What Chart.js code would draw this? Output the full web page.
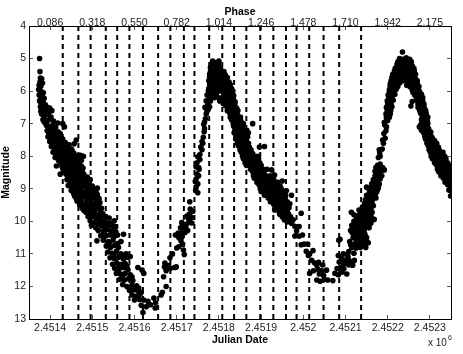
<!DOCTYPE html>
<html>
<head>
<meta charset="utf-8">
<script src="https://cdn.jsdelivr.net/npm/chart.js@4/dist/chart.umd.min.js"></script>
<style>
    html, body { margin: 0; padding: 0; background: #fff; }
    canvas { display: block; }
</style>
</head>
<body>
<canvas id="lightcurve" width="463" height="354"></canvas>
<script>
// Days are Julian Date minus 2450000
const dayTicks = [1400, 1500, 1600, 1700, 1800, 1900, 2000, 2100, 2200, 2300];
const dateLabels = ['2.4514', '2.4515', '2.4516', '2.4517', '2.4518', '2.4519', '2.452', '2.4521', '2.4522', '2.4523'];
const phaseLabels = ['0.086', '0.318', '0.550', '0.782', '1.014', '1.246', '1.478', '1.710', '1.942', '2.175'];
const magnitudeTicks = [4, 5, 6, 7, 8, 9, 10, 11, 12, 13];

// Dashed observation epochs
const epochDays = [1430, 1467, 1496, 1532, 1559, 1588, 1620, 1656, 1685, 1717, 1742, 1777,
    1808, 1836, 1865, 1898, 1929, 1959, 1984, 2014, 2048, 2085, 2137];

const fallOne = [
    [1375,5.0],[1376,5.4],[1377,5.6],[1380,5.62],[1376,5.72],[1374,5.82],[1378,5.85],[1382,5.75],[1373,5.95],[1376,6.0],[1380,6.02],[1384,6.05],
    [1374,6.12],[1378,6.2],[1382,6.18],[1386,6.22],[1375,6.3],[1379,6.38],[1384,6.36],[1389,6.42],[1377,6.48],[1382,6.55],[1387,6.58],[1393,6.5],[1399,6.52],[1404,6.6],
    [1380,6.7],[1385,6.78],[1390,6.72],[1396,6.7],[1402,6.8],[1386,6.95],[1391,6.9],[1397,6.88],[1408,6.92],[1418,6.98],[1430,7.0],[1434,7.1],
    [1391,7.05],[1398,7.1],[1406,7.05],[1413,7.12],[1393,7.22],[1402,7.25],[1410,7.2],[1419,7.25],[1395,7.4],[1404,7.38],[1413,7.42],[1422,7.38],[1428,7.45],
    [1399,7.55],[1408,7.58],[1417,7.52],[1426,7.6],[1436,7.58],[1462,7.5],[1457,7.62],[1403,7.7],[1412,7.74],[1421,7.7],[1431,7.76],[1441,7.72],[1450,7.78],
    [1407,7.88],[1416,7.9],[1426,7.86],[1436,7.92],[1446,7.86],[1456,7.9],[1467,8.0],[1412,8.04],[1422,8.06],[1433,8.02],[1443,8.08],[1453,8.03],[1462,8.08],[1479,8.0],
    [1415,8.3],[1425,8.2],[1435,8.22],[1446,8.2],[1457,8.24],[1468,8.2],[1430,8.38],[1440,8.36],[1451,8.4],[1461,8.36],[1472,8.42],[1478,8.36],
    [1424,8.55],[1438,8.55],[1449,8.58],[1459,8.52],[1470,8.58],[1480,8.55],[1440,8.72],[1452,8.75],[1463,8.7],[1474,8.74],[1484,8.7],[1495,8.72],
    [1443,8.9],[1454,8.9],[1466,8.88],[1477,8.92],[1488,8.88],[1500,8.92],[1450,9.05],[1461,9.08],[1473,9.04],[1484,9.1],[1495,9.04],[1508,9.08],
    [1458,9.22],[1469,9.2],[1481,9.24],[1492,9.2],[1503,9.25],[1512,9.18],[1464,9.38],[1475,9.42],[1487,9.36],[1498,9.42],[1510,9.38],[1518,9.42],
    [1476,9.6],[1488,9.56],[1499,9.62],[1510,9.56],[1522,9.6],[1485,9.72],[1495,9.78],[1505,9.74],[1516,9.8],[1525,9.76],[1540,9.9],
    [1495,9.98],[1498,10.12],[1509,9.92],[1518,9.96],[1528,10.0],[1552,9.98],[1511,10.1],[1521,10.14],[1532,10.1],[1542,10.12],[1555,10.16],
    [1514,10.28],[1526,10.3],[1536,10.26],[1546,10.3],[1556,10.32],[1520,10.44],[1531,10.46],[1541,10.42],[1551,10.48],[1560,10.42],[1574,10.4],
    [1511,10.6],[1526,10.58],[1538,10.62],[1549,10.58],[1568,10.62],[1533,10.76],[1543,10.8],[1553,10.74],[1562,10.8],
    [1537,10.94],[1547,10.98],[1557,10.92],[1568,11.0],[1580,11.0],[1590,11.08],[1542,11.12],[1552,11.14],[1563,11.1],[1574,11.16],[1584,11.1],
    [1548,11.32],[1558,11.28],[1568,11.32],[1578,11.3],[1553,11.44],[1563,11.48],[1574,11.42],[1584,11.48],[1608,11.42],[1618,11.5],[1622,11.6],
    [1557,11.6],[1567,11.62],[1578,11.6],[1590,11.64],[1565,11.78],[1576,11.8],[1586,11.76],[1596,11.82],[1572,11.94],[1582,12.0],[1594,11.96],[1605,11.98],
    [1588,12.12],[1598,12.1],[1608,12.14],[1616,12.18],[1594,12.26],[1604,12.3],[1613,12.24],[1600,12.42],[1612,12.4],[1622,12.42],[1632,12.46],[1646,12.36],[1650,12.5],
    [1616,12.58],[1628,12.62],[1638,12.56],[1649,12.66],[1620,12.8]
];

const riseOne = [
    [1663,12.26],[1666,12.18],[1675,12.0],[1669,11.7],[1675,11.52],[1671,11.4],[1672,11.28],[1680,11.36],[1685,11.44],[1695,11.42],[1699,11.4],
    [1684,11.12],[1690,11.0],[1700,10.82],[1714,10.7],[1716,10.88],[1718,11.02],[1705,10.78],
    [1697,10.42],[1704,10.36],[1712,10.48],[1720,10.34],[1726,10.28],[1710,10.6],[1709,10.2],[1712,10.04],[1718,10.12],[1724,10.08],[1731,10.02],[1736,10.05],
    [1730,9.78],[1732,9.62],[1738,9.7],[1724,9.84],[1731,9.4],[1745,9.05],[1750,9.12],[1746,8.95],[1744,8.78],[1750,8.85],[1752,8.6],
    [1748,8.2],[1750,8.02],[1746,8.32],[1753,8.4],[1757,7.72],[1755,7.95],[1763,7.42],[1765,7.25],[1764,7.02],[1760,7.55],[1768,6.85],[1767,6.5],[1772,6.62],
    [1774,6.42],[1777,6.25],[1772,6.12],[1776,5.92],[1780,6.08],[1784,6.18],
    [1752,8.35],[1755,8.1],[1748,8.55],[1746,8.7],[1760,7.8],[1762,7.6],[1766,7.15],[1766,6.95],[1770,6.7],[1775,6.55],[1770,6.3],[1780,6.3],[1778,6.48],
    [1715,10.2],[1705,10.5],[1712,10.35],[1722,10.22],[1728,9.92],[1735,9.88]
];

const fallTwo = [
    [1785,5.08],[1792,5.12],[1800,5.08],[1780,5.28],[1788,5.3],[1796,5.26],[1804,5.32],[1778,5.48],[1785,5.52],[1793,5.46],[1801,5.5],[1809,5.54],[1815,5.5],
    [1776,5.68],[1783,5.72],[1791,5.66],[1799,5.7],[1807,5.74],[1815,5.68],[1824,5.72],[1781,5.88],[1789,5.92],[1797,5.86],[1805,5.9],[1813,5.94],[1821,5.88],[1830,5.92],
    [1786,6.08],[1794,6.12],[1802,6.3],[1812,6.08],[1820,6.12],[1828,6.08],[1835,6.14],[1815,6.28],[1824,6.3],[1832,6.26],[1838,6.32],[1816,6.46],[1826,6.5],[1834,6.46],[1842,6.52],
    [1826,6.68],[1834,6.72],[1843,6.68],[1830,6.88],[1838,6.9],[1847,6.86],[1852,6.92],[1880,7.0],[1835,7.08],[1843,7.1],[1851,7.06],[1858,7.12],
    [1836,7.28],[1845,7.3],[1853,7.26],[1862,7.32],[1870,7.28],[1840,7.48],[1849,7.5],[1857,7.46],[1865,7.52],[1846,7.68],[1855,7.7],[1863,7.66],[1872,7.72],[1908,7.7],[1896,7.72],
    [1853,7.88],[1861,7.9],[1870,7.86],[1880,7.92],[1858,8.08],[1867,8.1],[1876,8.06],[1885,8.12],[1894,8.08],[1865,8.28],[1874,8.3],[1883,8.26],[1892,8.32],[1900,8.28],
    [1880,8.48],[1889,8.5],[1898,8.46],[1907,8.52],[1925,8.42],[1932,8.58],[1884,8.68],[1893,8.7],[1902,8.66],[1912,8.72],[1922,8.68],[1930,8.72],[1950,8.76],
    [1895,8.88],[1905,8.9],[1915,8.86],[1925,8.92],[1935,8.88],[1945,8.92],[1900,9.08],[1911,9.1],[1921,9.06],[1931,9.12],[1941,9.08],[1951,9.1],[1960,9.06],
    [1917,9.28],[1927,9.3],[1937,9.26],[1947,9.32],[1957,9.28],[1972,9.2],[1930,9.48],[1940,9.5],[1950,9.46],[1960,9.52],[1968,9.46],[1932,9.65],[1942,9.68],[1952,9.66],[1962,9.7],
    [1950,9.86],[1960,9.9],[1970,9.86],[1995,9.75],[1962,10.02],[1972,10.06],[1980,10.15],[1990,10.16],[1984,10.3],[1980,10.45],[1990,10.46],[1998,10.42],
    [2002,10.7],[1995,10.72],[2010,10.7],[2023,10.9],[2007,10.92],[2012,11.05],[2015,11.0],[2020,11.2],[2027,11.28],[2036,11.26],[2046,11.34],[2032,11.36],
    [2015,11.6],[2024,11.52],[2035,11.48],[2044,11.52],[2055,11.5],[2038,11.62],[2048,11.66],[2032,11.8],[2040,11.84],[2050,11.78],[2058,11.8],[2070,11.82]
];

const riseTwo = [
    [2075,11.6],[2083,11.64],[2092,11.56],[2103,11.62],[2088,11.42],[2083,11.05],[2084,10.58],[2087,10.55],[2091,11.14],[2098,11.2],[2106,11.1],[2114,11.26],[2121,11.2],[2096,11.32],[2108,11.34],[2117,11.35],
    [2108,10.93],[2120,10.98],[2110,10.62],[2112,10.72],[2121,10.7],[2129,10.74],[2137,10.68],[2146,10.72],[2154,10.66],[2126,10.58],[2135,10.6],[2143,10.56],[2151,10.62],
    [2120,10.44],[2128,10.42],[2136,10.46],[2146,10.4],[2112,10.28],[2120,10.26],[2128,10.3],[2135,10.24],[2144,10.3],[2115,10.12],[2124,10.08],[2133,10.14],[2142,10.08],[2151,10.12],[2160,10.06],
    [2126,9.92],[2135,9.94],[2144,9.9],[2153,9.96],[2162,9.9],[2168,9.94],[2114,9.72],[2120,9.8],[2136,9.76],[2145,9.72],[2154,9.78],[2163,9.72],
    [2140,9.56],[2149,9.52],[2158,9.58],[2166,9.52],[2147,9.34],[2156,9.3],[2152,9.3],[2164,9.34],[2172,9.28],[2157,9.12],[2166,9.14],[2174,9.1],[2150,8.95],[2162,8.96],[2172,8.92],[2178,8.96],
    [2166,8.72],[2175,8.76],[2182,8.7],[2170,8.46],[2178,8.5],[2186,8.44],[2192,8.42],[2176,8.28],[2182,8.24],[2178,8.04],[2182,8.0],[2180,7.8],[2187,7.78],[2190,7.6],[2194,7.45],[2196,7.22],[2193,7.04],
    [2115,10.8],[2125,10.82],[2135,10.8],[2148,10.8],[2095,11.0],[2105,11.02],[2085,11.25],[2103,11.24],[2110,11.22],[2080,11.45],[2096,11.46],
    [2118,10.5],[2128,10.52],[2140,10.5],[2150,10.5],[2116,10.35],[2124,10.36],[2132,10.35],[2140,10.36],[2116,10.2],[2126,10.2],[2138,10.2],[2148,10.2],[2156,10.2],
    [2120,10.0],[2130,10.02],[2140,10.0],[2150,10.02],[2160,10.0],[2130,9.82],[2140,9.82],[2150,9.84],[2160,9.82],[2132,9.65],[2142,9.64],[2152,9.66],[2160,9.64],
    [2145,9.45],[2154,9.44],[2163,9.45],[2150,9.2],[2160,9.22],[2170,9.2],[2156,9.02],[2167,9.03],[2176,9.02],[2162,8.85],[2172,8.84],[2180,8.85],
    [2170,8.6],[2178,8.62],[2186,8.6],[2172,8.35],[2180,8.36],[2188,8.35],[2181,7.9],[2188,7.5],[2191,7.3],[2197,7.1],[2200,6.9],[2206,6.7],[2200,6.55]
];

const lastPeak = [
    [2235,4.8],[2228,5.0],[2236,5.02],[2244,4.98],[2252,5.02],[2222,5.18],[2230,5.2],[2238,5.16],[2246,5.22],[2254,5.18],[2258,5.22],
    [2216,5.38],[2224,5.4],[2232,5.36],[2240,5.42],[2248,5.38],[2256,5.42],[2263,5.38],[2210,5.58],[2218,5.6],[2226,5.56],[2234,5.62],[2242,5.58],[2250,5.6],[2258,5.56],[2266,5.62],
    [2206,5.78],[2213,5.8],[2221,5.76],[2229,5.74],[2245,5.82],[2254,5.76],[2262,5.8],[2270,5.76],[2204,5.96],[2212,5.96],[2220,5.94],[2258,5.96],[2266,5.94],[2274,5.98],
    [2201,6.12],[2209,6.14],[2217,6.1],[2264,6.12],[2272,6.14],[2280,6.1],[2199,6.3],[2207,6.32],[2213,6.28],[2258,6.32],[2268,6.28],[2276,6.32],[2283,6.3],[2255,6.46],
    [2197,6.5],[2205,6.52],[2210,6.48],[2272,6.5],[2280,6.48],[2287,6.52],[2196,6.7],[2203,6.72],[2278,6.68],[2285,6.72],[2291,6.68],[2198,6.88],[2192,6.96],[2280,6.88],[2287,6.9],[2294,6.92],
    [2279,7.02],[2275,7.1],[2285,7.12],[2293,7.08],[2297,7.16],[2285,7.28],[2293,7.3],[2302,7.26],[2290,7.48],[2298,7.5],[2306,7.46],[2311,7.52],
    [2296,7.68],[2304,7.7],[2312,7.66],[2320,7.72],[2301,7.88],[2309,7.9],[2317,7.86],[2325,7.92],[2331,7.88],[2306,8.08],[2314,8.1],[2322,8.06],[2330,8.12],[2338,8.08],
    [2316,8.28],[2324,8.3],[2332,8.26],[2340,8.32],[2345,8.28],[2321,8.48],[2329,8.5],[2337,8.46],[2345,8.52],[2350,8.46],[2332,8.68],[2340,8.7],[2348,8.66],
    [2342,8.88],[2349,8.9],[2345,9.04],[2351,9.08],[2349,9.22]
];

// Extra dense points inside the bands, as [magnitude, days seen at that magnitude]
const fallOneDense = [
    [6.62,[1378,1388,1394]],[6.88,[1383]],[6.98,[1392]],[7.15,[1396,1404,1412]],[7.3,[1397,1406,1414,1424]],[7.48,[1401,1410,1420,1430]],
    [7.65,[1405,1414,1424,1433,1445]],[7.82,[1410,1420,1430,1440,1452]],[7.97,[1414,1424,1438,1450,1460,1472]],[8.13,[1420,1430,1440,1452,1462,1474]],
    [8.3,[1428,1440,1452,1463,1474]],[8.47,[1432,1444,1455,1466,1476]],[8.64,[1444,1456,1467,1478,1488]],[8.82,[1448,1459,1470,1481,1492]],
    [8.98,[1452,1463,1475,1488,1500,1512]],[9.15,[1456,1466,1477,1489,1500,1510]],[9.3,[1462,1473,1486,1497,1508,1516]],[9.5,[1470,1482,1493,1504,1515]],
    [9.67,[1480,1492,1505,1518]],[9.85,[1490,1501,1512,1522,1532]],[10.05,[1503,1515,1525,1536,1546]],[10.2,[1508,1530,1550]],
    [10.37,[1528,1548]],[10.68,[1540,1560]],[11.05,[1550,1572]],[11.38,[1563,1582]],[11.7,[1572,1594]],[12.05,[1590,1610]]
];

const fallTwoDense = [
    [5.2,[1784,1792,1800]],[5.4,[1780,1789,1797,1806,1812]],[5.58,[1778,1787,1796,1804,1812,1820]],[5.8,[1778,1786,1794,1802,1810,1818,1827]],
    [6.0,[1775,1783,1792,1800,1808,1816,1825,1833]],[6.2,[1790,1798,1808,1817,1826,1834]],[6.38,[1810,1820,1829,1838]],[6.6,[1820,1830,1838,1845]],
    [6.8,[1827,1836,1845,1851]],[7.0,[1834,1842,1850,1858]],[7.2,[1838,1847,1856,1866]],[7.4,[1842,1851,1860,1868]],[7.6,[1844,1852,1861,1870]],
    [7.8,[1850,1858,1866,1876]],[8.0,[1856,1865,1874,1884,1892]],[8.2,[1862,1870,1880,1889,1897]],[8.4,[1875,1885,1895,1905,1914]],[8.6,[1882,1892,1902,1912,1922]],
    [8.8,[1890,1900,1910,1920,1930,1940]],[9.0,[1898,1908,1918,1928,1938,1948]],[9.2,[1908,1918,1928,1938,1948,1958]],[9.4,[1922,1932,1942,1952,1962]],
    [9.58,[1935,1946,1956,1966]],[9.78,[1944,1955,1965]],[9.95,[1955,1966,1976]]
];

const lastPeakDense = [
    [5.1,[2224,2232,2240,2248,2256]],[5.3,[2218,2226,2234,2242,2250,2258,2262]],[5.48,[2212,2220,2228,2236,2244,2252,2260,2266]],
    [5.68,[2208,2216,2224,2232,2240,2248,2256,2264,2270]],[5.86,[2206,2216,2224,2252,2260,2268,2274]],[6.04,[2204,2212,2260,2268,2276]],
    [6.2,[2203,2210,2268,2276,2283]],[6.4,[2200,2208,2272,2280,2286]],[6.6,[2199,2207,2276,2284,2290]],[6.8,[2197,2204,2282,2289,2295]],
    [7.0,[2287,2295]],[7.2,[2280,2289,2297]],[7.4,[2288,2296,2304]],[7.6,[2293,2301,2309,2316]],[7.8,[2298,2306,2314,2322]],
    [8.0,[2303,2311,2319,2327,2335]],[8.2,[2311,2319,2327,2335,2342]],[8.4,[2318,2326,2334,2342,2349]],[8.6,[2326,2334,2342,2350]],[8.8,[2336,2344,2350]]
];

const denseRows = [...fallOneDense, ...fallTwoDense, ...lastPeakDense];
const densePoints = denseRows.flatMap(row => row[1].map(day => [day, row[0]]));
const observations = [...fallOne, ...riseOne, ...fallTwo, ...riseTwo, ...lastPeak, ...densePoints];

// Matlab style exponent note under the axis
const exponentNote = {
    id: 'exponentNote',
    afterDraw(chart) {
        const ctx = chart.ctx;
        ctx.save();
        ctx.fillStyle = '#222';
        ctx.textBaseline = 'alphabetic';
        ctx.font = '10px "Liberation Sans"';
        ctx.fillText('x 10', 428, 346);
        ctx.font = '7px "Liberation Sans"';
        ctx.fillText('6', 448, 340);
        ctx.restore();
    }
};

const epochLines = epochDays.map(day => ({
    type: 'line',
    data: [{ x: day, y: 4 }, { x: day, y: 13 }],
    borderColor: '#000',
    borderWidth: 2,
    borderDash: [5, 4],
    pointRadius: 0,
    fill: false
}));

function fixWidth(width) {
    return scale => { scale.width = width; };
}

function fixHeight(height) {
    return scale => { scale.height = height; };
}

function useTicks(values) {
    return scale => { scale.ticks = values.map(value => ({ value })); };
}

const tickFont = { family: '"Liberation Sans"', size: 10.5 };
const titleFont = { family: '"Liberation Sans"', size: 10.5, weight: 'bold' };
const gridStyle = { drawOnChartArea: false, drawTicks: true, tickLength: -4, tickColor: '#555', tickWidth: 1 };
const borderStyle = { display: true, color: '#000', width: 1 };

new Chart(document.getElementById('lightcurve'), {
    type: 'scatter',
    data: {
        datasets: [
            ...epochLines,
            {
                data: observations.map(point => ({ x: point[0], y: point[1] })),
                backgroundColor: '#000',
                borderColor: '#000',
                borderWidth: 0,
                pointRadius: 2.8
            }
        ]
    },
    options: {
        responsive: false,
        animation: false,
        plugins: {
            legend: { display: false },
            tooltip: { enabled: false }
        },
        scales: {
            x: {
                type: 'linear',
                position: 'bottom',
                min: 1350,
                max: 2350,
                afterBuildTicks: useTicks(dayTicks),
                afterFit: fixHeight(35),
                grid: gridStyle,
                border: borderStyle,
                ticks: {
                    color: '#222',
                    font: tickFont,
                    padding: 7,
                    maxRotation: 0,
                    autoSkip: false,
                    callback: (value, index) => dateLabels[index]
                },
                title: { display: true, text: 'Julian Date', color: '#000', font: titleFont, padding: { top: 0, bottom: 8 } }
            },
            xTop: {
                type: 'linear',
                position: 'top',
                min: 1350,
                max: 2350,
                afterBuildTicks: useTicks(dayTicks),
                afterFit: fixHeight(26),
                grid: gridStyle,
                border: borderStyle,
                ticks: {
                    color: '#222',
                    font: tickFont,
                    padding: 1,
                    maxRotation: 0,
                    autoSkip: false,
                    callback: (value, index) => phaseLabels[index]
                },
                title: { display: true, text: 'Phase', color: '#000', font: titleFont, padding: { top: 6, bottom: 0 } }
            },
            y: {
                type: 'linear',
                position: 'left',
                reverse: true,
                min: 4,
                max: 13,
                afterBuildTicks: useTicks(magnitudeTicks),
                afterFit: fixWidth(29),
                grid: gridStyle,
                border: borderStyle,
                ticks: { color: '#222', font: tickFont, padding: 7, autoSkip: false },
                title: { display: true, text: 'Magnitude', color: '#000', font: titleFont, padding: { top: 0, bottom: 0 } }
            },
            yRight: {
                type: 'linear',
                position: 'right',
                reverse: true,
                min: 4,
                max: 13,
                afterBuildTicks: useTicks(magnitudeTicks),
                afterFit: fixWidth(12),
                grid: gridStyle,
                border: borderStyle,
                ticks: { display: false }
            }
        }
    },
    plugins: [exponentNote]
});
</script>
</body>
</html>
